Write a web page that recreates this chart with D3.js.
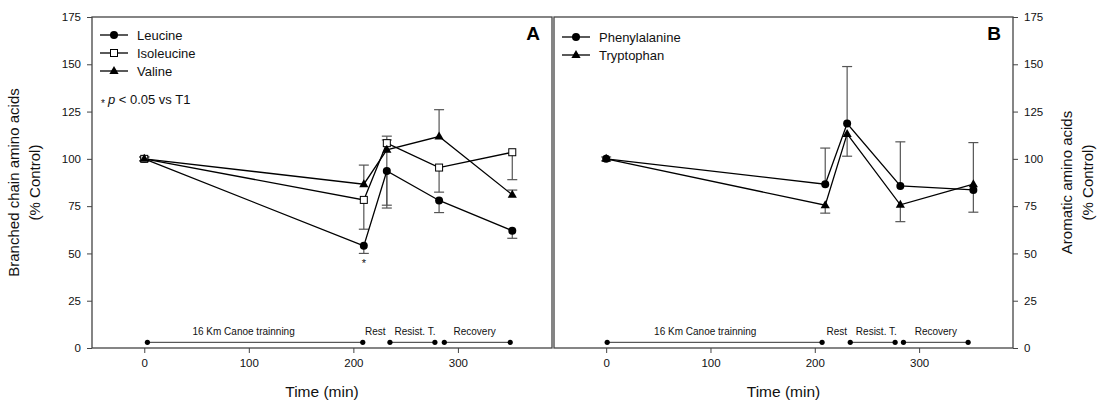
<!DOCTYPE html>
<html>
<head>
<meta charset="utf-8">
<script src="https://cdn.jsdelivr.net/npm/d3@7"></script>
<style>
  html, body { margin: 0; padding: 0; background: #fff; }
  svg { display: block; font-family: "Liberation Sans", Arial, sans-serif; font-weight: normal; }
</style>
</head>
<body>
<svg id="chart" width="1099" height="405"></svg>
<script>
// Sampling times (min)
const timesA = [0, 210, 232, 282, 352];
const timesB = [0, 210, 231, 282, 352];

// Panel A: branched chain amino acids (% Control)
const leucine    = [100, 54, 93.6, 78, 62];
const leucineLo  = [99, 50, 74, 71.6, 58];
const leucineHi  = [101, 54, 93.6, 78, 62];
const isoleucine   = [100, 78.3, 108.3, 95.4, 103.5];
const isoleucineLo = [99, 62.8, 108.3, 82.4, 89];
const isoleucineHi = [101, 78.3, 112, 95.4, 103.5];
const valine   = [100, 86.6, 104.8, 111.8, 81];
const valineLo = [99, 86.6, 75.5, 111.8, 81];
const valineHi = [101, 96.7, 110, 126, 83.5];

// Panel B: aromatic amino acids (% Control)
const phenylalanine   = [100, 86.6, 118.7, 85.7, 83.6];
const phenylalanineHi = [101, 105.7, 148.8, 109, 108.6];
const tryptophan   = [100, 75.5, 113.2, 75.7, 86.6];
const tryptophanLo = [99, 71.3, 101.4, 66.8, 71.8];

// Protocol phases shown along the bottom
const phaseLabels = ["16 Km Canoe trainning", "Rest", "Resist. T.", "Recovery"];
const phaseLabelX = [95, 221, 259, 316];
const phasesA = [[3, 209], [235, 278], [287, 350]];
const phasesB = [[1, 207], [234, 277], [285, 347]];

const yTicks = [0, 25, 50, 75, 100, 125, 150, 175];
const xTicks = [0, 100, 200, 300];

const svg = d3.select("#chart");
const plotTop = 17, plotBottom = 348;
const y = d3.scaleLinear().domain([0, 175]).range([plotBottom, plotTop]);
const axisColor = "#444";
const textColor = "#111";

function drawMarker(g, type, cx, cy) {
  if (type === "circle") {
    g.append("circle").attr("cx", cx).attr("cy", cy).attr("r", 4).attr("fill", "#000");
  } else if (type === "square") {
    g.append("rect").attr("x", cx - 3.5).attr("y", cy - 3.5).attr("width", 7).attr("height", 7)
      .attr("fill", "#fff").attr("stroke", "#000").attr("stroke-width", 1);
  } else {
    g.append("path").attr("d", `M${cx},${cy - 5}L${cx + 4.6},${cy + 3}L${cx - 4.6},${cy + 3}Z`)
      .attr("fill", "#000");
  }
}

function drawPanel(opts) {
  const x = d3.scaleLinear().domain([-50, 390]).range([opts.left, opts.right]);
  const g = svg.append("g").attr("fill", textColor);

  // frame
  g.append("rect")
    .attr("x", opts.left).attr("y", plotTop)
    .attr("width", opts.right - opts.left).attr("height", plotBottom - plotTop)
    .attr("fill", "none").attr("stroke", axisColor).attr("stroke-width", 1.3);

  // x axis
  const xa = g.append("g").attr("transform", `translate(0,${plotBottom})`)
    .call(d3.axisBottom(x).tickValues(xTicks).tickSize(5).tickPadding(6));
  xa.select(".domain").remove();
  xa.selectAll("line").attr("stroke", axisColor);
  xa.selectAll("text").attr("font-size", 11.5).attr("fill", textColor)
    .attr("font-family", "Liberation Sans, Arial, sans-serif");

  // y axis
  const yAxisGen = opts.yRight ? d3.axisRight(y) : d3.axisLeft(y);
  const ya = g.append("g").attr("transform", `translate(${opts.yRight ? opts.right : opts.left},0)`)
    .call(yAxisGen.tickValues(yTicks).tickSize(5).tickPadding(6));
  ya.select(".domain").remove();
  ya.selectAll("line").attr("stroke", axisColor);
  ya.selectAll("text").attr("font-size", 11.5).attr("fill", textColor)
    .attr("font-family", "Liberation Sans, Arial, sans-serif");

  // axis titles
  g.append("text")
    .attr("x", (opts.left + opts.right) / 2).attr("y", 397)
    .attr("text-anchor", "middle").attr("font-size", 15.5).text("Time (min)");
  const ty = g.append("text")
    .attr("transform", `translate(${opts.titleX},${(plotTop + plotBottom) / 2}) rotate(-90)`)
    .attr("text-anchor", "middle").attr("font-size", 15);
  ty.append("tspan").attr("x", 0).attr("dy", 0).text(opts.yTitle);
  ty.append("tspan").attr("x", 0).attr("dy", 21).text("(% Control)");

  // panel letter
  g.append("text").attr("x", opts.right - 12).attr("y", 40)
    .attr("text-anchor", "end").attr("font-size", 19).attr("font-weight", "bold")
    .attr("fill", "#000").text(opts.letter);

  // phases
  const py = y(3);
  opts.phases.forEach(p => {
    g.append("line").attr("x1", x(p[0])).attr("x2", x(p[1]))
      .attr("y1", py).attr("y2", py).attr("stroke", "#333").attr("stroke-width", 1);
    p.forEach(v => g.append("circle").attr("cx", x(v)).attr("cy", py).attr("r", 2.6).attr("fill", "#000"));
  });
  phaseLabels.forEach((t, i) => {
    g.append("text").attr("x", x(phaseLabelX[i])).attr("y", 335)
      .attr("text-anchor", "middle").attr("font-size", 10).text(t);
  });

  // error bars
  const cap = 5;
  opts.series.forEach(s => {
    s.values.forEach((v, i) => {
      const lo = s.lo ? s.lo[i] : v, hi = s.hi ? s.hi[i] : v;
      const xi = x(s.times[i]);
      [[v, lo], [v, hi]].forEach(([a, b]) => {
        if (Math.abs(a - b) < 0.01) return;
        g.append("line").attr("x1", xi).attr("x2", xi).attr("y1", y(a)).attr("y2", y(b))
          .attr("stroke", "#555").attr("stroke-width", 1.2);
        g.append("line").attr("x1", xi - cap).attr("x2", xi + cap).attr("y1", y(b)).attr("y2", y(b))
          .attr("stroke", "#555").attr("stroke-width", 1.2);
      });
    });
  });

  // lines
  const line = d3.line();
  opts.series.forEach(s => {
    g.append("path")
      .attr("d", line(s.values.map((v, i) => [x(s.times[i]), y(v)])))
      .attr("fill", "none").attr("stroke", "#000").attr("stroke-width", 1.3);
  });

  // markers
  opts.series.forEach(s => {
    s.values.forEach((v, i) => drawMarker(g, s.marker, x(s.times[i]), y(v)));
  });

  // legend
  opts.series.forEach((s, i) => {
    const ly = opts.legendY + i * 18;
    g.append("line").attr("x1", opts.left + 8).attr("x2", opts.left + 36)
      .attr("y1", ly).attr("y2", ly).attr("stroke", "#000").attr("stroke-width", 1.3);
    drawMarker(g, s.marker, opts.left + 22, ly);
    g.append("text").attr("x", opts.left + 45).attr("y", ly + 4.5)
      .attr("font-size", 13).text(s.name);
  });

  return { g, x };
}

const A = drawPanel({
  left: 92, right: 552, yRight: false, titleX: 19, letter: "A",
  yTitle: "Branched chain amino acids", phases: phasesA, legendY: 35,
  series: [
    { name: "Leucine", marker: "circle", times: timesA, values: leucine, lo: leucineLo, hi: leucineHi },
    { name: "Isoleucine", marker: "square", times: timesA, values: isoleucine, lo: isoleucineLo, hi: isoleucineHi },
    { name: "Valine", marker: "triangle", times: timesA, values: valine, lo: valineLo, hi: valineHi }
  ]
});

// significance note and marker
const note = A.g.append("text").attr("x", 101).attr("y", 104).attr("font-size", 13);
note.append("tspan").attr("font-size", 10).attr("dy", 3).text("*");
note.append("tspan").attr("dy", -3).attr("dx", 3).attr("font-style", "italic").text("p");
note.append("tspan").text(" < 0.05 vs T1");
A.g.append("text").attr("x", A.x(timesA[1])).attr("y", y(leucineLo[1]) + 14)
  .attr("text-anchor", "middle").attr("font-size", 11).text("*");

drawPanel({
  left: 554, right: 1013, yRight: true, titleX: 1072, letter: "B",
  yTitle: "Aromatic amino acids", phases: phasesB, legendY: 37,
  series: [
    { name: "Phenylalanine", marker: "circle", times: timesB, values: phenylalanine, hi: phenylalanineHi },
    { name: "Tryptophan", marker: "triangle", times: timesB, values: tryptophan, lo: tryptophanLo }
  ]
});
</script>
</body>
</html>
